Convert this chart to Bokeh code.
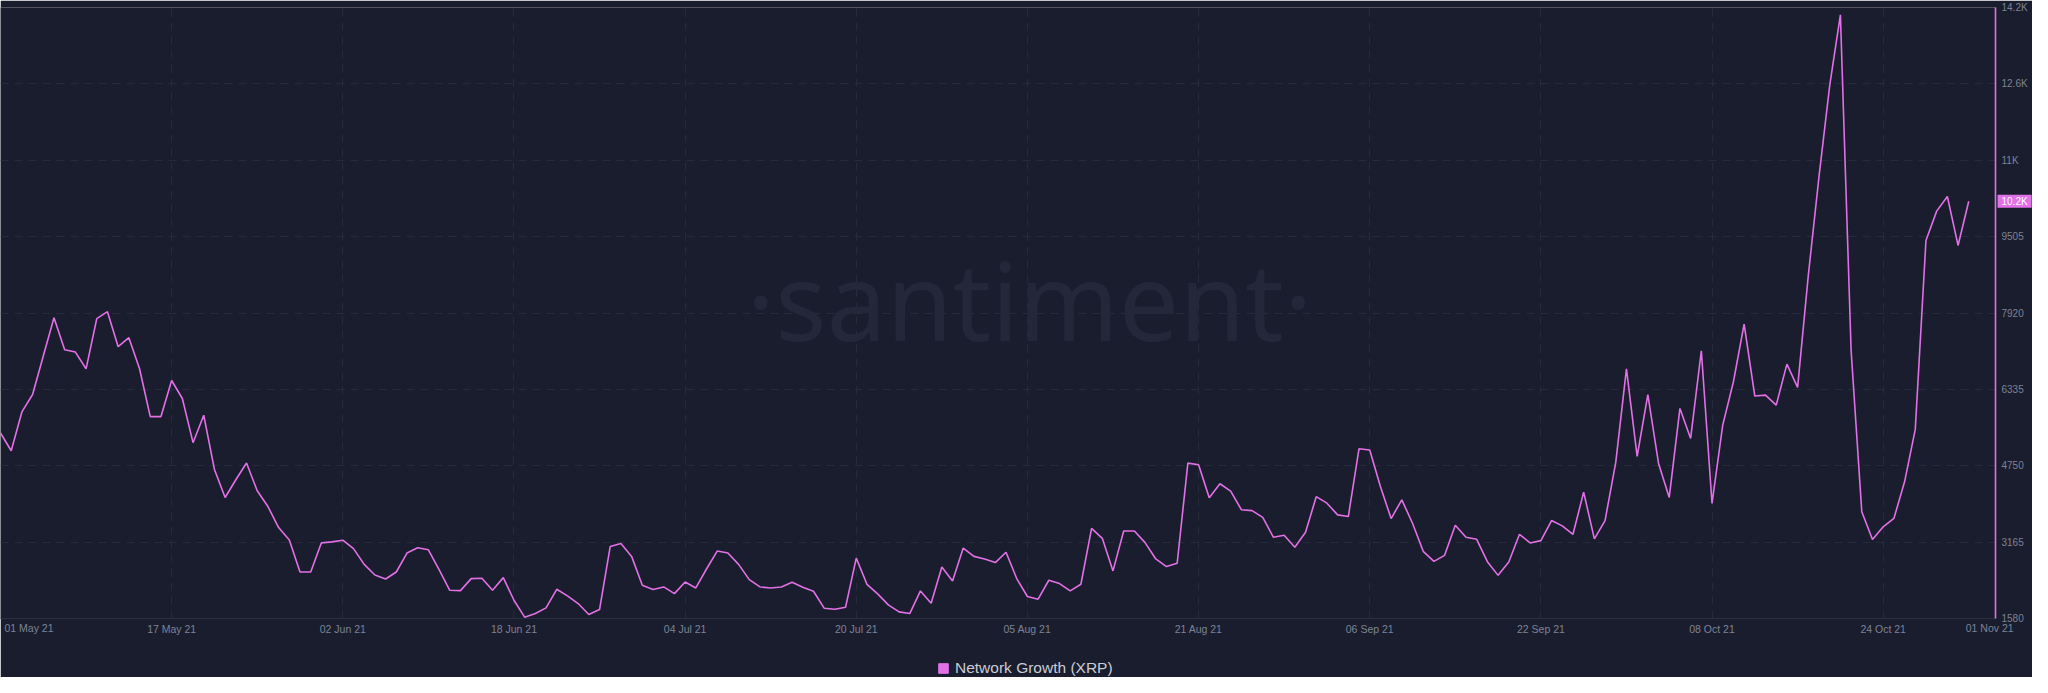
import pandas as pd
from bokeh.plotting import figure
from bokeh.models import (FixedTicker, DatetimeTickFormatter, Range1d, Label,
                          Legend, LegendItem, ColumnDataSource, GridBox)
from bokeh.embed import file_html
from bokeh.resources import INLINE

# ---------------- data ----------------
start_date = "2021-05-01"
may = [5430, 5062, 5867, 6228, 7026, 7823, 7157, 7109, 6762, 7802, 7948, 7220, 7407, 6762,
       5770, 5770, 6519, 6145, 5229, 5798, 4674, 4091, 4459, 4806, 4230, 3904, 3467, 3210,
       2544, 2544, 3150]
jun = [3170, 3205, 3030, 2703, 2483, 2400, 2545, 2938, 3048, 3006, 2593, 2166, 2159, 2407,
       2414, 2166, 2428, 1959, 1608, 1683, 1800, 2186, 2049, 1890, 1663, 1766, 3075, 3137,
       2869, 2269]
jul = [2180, 2235, 2097, 2338, 2214, 2607, 2979, 2938, 2703, 2386, 2235, 2214, 2235, 2331,
       2228, 2145, 1794, 1773, 1814, 2834, 2290, 2090, 1863, 1718, 1683, 2152, 1897, 2648,
       2359, 3041, 2869]
aug = [2813, 2740, 2954, 2409, 2036, 1981, 2374, 2305, 2153, 2291, 3452, 3244, 2568, 3396,
       3396, 3155, 2816, 2657, 2726, 4805, 4771, 4087, 4377, 4225, 3838, 3818, 3679, 3265,
       3307, 3058, 3369]
sep = [4108, 3973, 3730, 3696, 5104, 5076, 4320, 3654, 4043, 3557, 2974, 2766, 2891, 3515,
       3266, 3224, 2759, 2475, 2752, 3328, 3148, 3196, 3613, 3502, 3328, 4202, 3231, 3613,
       4820, 6762]
octo = [4944, 6228, 4798, 4092, 5940, 5317, 7137, 3967, 5594, 6493, 7690, 6196, 6216, 6009,
        6860, 6376, 8700, 10750, 12637, 14108, 7147, 3794, 3220, 3483, 3656, 4417, 5504,
        9426, 10034, 10337, 9322]
nov = [10240]

values = may + jun + jul + aug + sep + octo + nov
dates = pd.date_range(start_date, periods=len(values), freq="D")

x_tick_dates = ["2021-05-17", "2021-06-02", "2021-06-18", "2021-07-04", "2021-07-20",
                "2021-08-05", "2021-08-21", "2021-09-06", "2021-09-22", "2021-10-08",
                "2021-10-24"]
edge_tick_dates = ["2021-05-01", "2021-11-01"]
y_ticks = [1580, 3165, 4750, 6335, 7920, 9505, 11090, 12675, 14260]
y_tick_labels = ["1580", "3165", "4750", "6335", "7920", "9505", "11K", "12.6K", "14.2K"]
series_name = "Network Growth (XRP)"

# ---------------- style ----------------
BG = "#1a1d2d"
PINK = "#e270e6"
GRID = "#262a3b"
TXT = "#7d8397"
FONT = "Liberation Sans"

W, H = 2032, 677
TOP = 7
FRAME_H = 611
BOTTOM = H - TOP - FRAME_H
RIGHT = 37
FRAME_W = W - RIGHT

def ms(d):
    return pd.Timestamp(d).value / 1e6

DAY = 86400000.0
x_start = ms(start_date)
x_end = x_start + 186.5 * DAY

p = figure(width=W, height=H, x_axis_type="datetime",
           x_range=Range1d(x_start, x_end), y_range=Range1d(y_ticks[0], y_ticks[-1]),
           y_axis_location="right", output_backend="svg", toolbar_location=None,
           min_border_left=0, min_border_top=TOP, min_border_right=RIGHT,
           min_border_bottom=BOTTOM, frame_align=False,
           background_fill_color=BG, border_fill_color=BG, outline_line_color=None)

src = ColumnDataSource(dict(date=dates, v=values))
p.line("date", "v", source=src, line_color=PINK, line_width=1.6)

x_ticks = [ms(d) for d in x_tick_dates]

# grids
p.xgrid.ticker = FixedTicker(ticks=x_ticks)
p.xgrid.grid_line_color = GRID
p.xgrid.grid_line_dash = "8 6"
p.ygrid.ticker = FixedTicker(ticks=y_ticks)
p.ygrid.grid_line_color = GRID
p.ygrid.grid_line_dash = "8 6"

# x axis
xa = p.xaxis[0]
xa.ticker = FixedTicker(ticks=x_ticks)
fmt = "%d %b %y"
xa.formatter = DatetimeTickFormatter(days=fmt, months=fmt, years=fmt, hours=fmt,
                                     minutes=fmt, seconds=fmt, milliseconds=fmt,
                                     microseconds=fmt, hourmin=fmt, minsec=fmt)
xa.axis_line_color = "#2a2e40"
xa.major_tick_out = 0
xa.major_tick_in = 0
xa.minor_tick_out = 0
xa.minor_tick_in = 0
xa.major_label_standoff = 4
xa.major_label_text_color = TXT
xa.major_label_text_font = FONT
xa.major_label_text_font_size = "10.5px"

# y axis (right)
ya = p.yaxis[0]
ya.ticker = FixedTicker(ticks=y_ticks)
ya.major_label_overrides = {t: l for t, l in zip(y_ticks, y_tick_labels)}
ya.axis_line_color = PINK
ya.axis_line_width = 1.6
ya.major_tick_out = 0
ya.major_tick_in = 0
ya.minor_tick_out = 0
ya.minor_tick_in = 0
ya.major_label_standoff = 6
ya.major_label_text_color = TXT
ya.major_label_text_font = FONT
ya.major_label_text_font_size = "10px"

# watermark
p.add_layout(Label(x=x_start + 96.2 * DAY, y=8200, text="\u00b7santiment\u00b7",
                   text_align="center", text_baseline="middle", text_color="#23273a",
                   text_font="Noto Sans", text_font_size="107px", level="underlay"))

# ---------- transparent overlay (same grid cell) for texts outside the plot frame ----------
ov = figure(width=W, height=H, output_backend="svg", toolbar_location=None,
            x_axis_location=None, y_axis_location=None,
            x_range=Range1d(0, W), y_range=Range1d(0, H), frame_align=False,
            min_border=0, background_fill_alpha=0, border_fill_alpha=0,
            outline_line_color=None)
ov.xgrid.visible = False
ov.ygrid.visible = False

px_per_ms = FRAME_W / (x_end - x_start)
def ox(d):                      # overlay x of a date (main frame starts at canvas x 0)
    return (ms(d) - x_start) * px_per_ms
def oy(v):                      # overlay y of a value
    return BOTTOM + (v - y_ticks[0]) / (y_ticks[-1] - y_ticks[0]) * FRAME_H

label_row_y = BOTTOM - 9
for d, off in zip(edge_tick_dates, [4, -3]):
    ov.add_layout(Label(x=ox(d) + off, y=label_row_y,
                        text=pd.Timestamp(d).strftime(fmt),
                        text_align="left", text_baseline="middle", text_color=TXT,
                        text_font=FONT, text_font_size="10.5px"))

last = values[-1]
ov.add_layout(Label(x=FRAME_W + 2, y=oy(last), text=f"{last/1000:.1f}K",
                    text_align="left", text_baseline="middle", text_color="white",
                    text_font=FONT, text_font_size="10px",
                    background_fill_color=PINK,
                    padding=dict(left=4, right=4, top=1, bottom=1)))

# legend (proxy square renderer lies outside the visible range)
sq = ov.scatter(x=[-1000], y=[-1000], marker="square", fill_color=PINK, line_color=PINK)
legend = Legend(items=[LegendItem(label=series_name, renderers=[sq])],
                location=(931, -3), orientation="horizontal",
                background_fill_alpha=0, border_line_alpha=0, padding=0, margin=0,
                glyph_width=24, glyph_height=24, label_standoff=0,
                label_text_color="#c9ccd6", label_text_font=FONT,
                label_text_font_size="15.5px")
ov.add_layout(legend, "center")

grid = GridBox(children=[(p, 0, 0), (ov, 0, 0)])
open("out.html", "w").write(file_html(grid, INLINE))
